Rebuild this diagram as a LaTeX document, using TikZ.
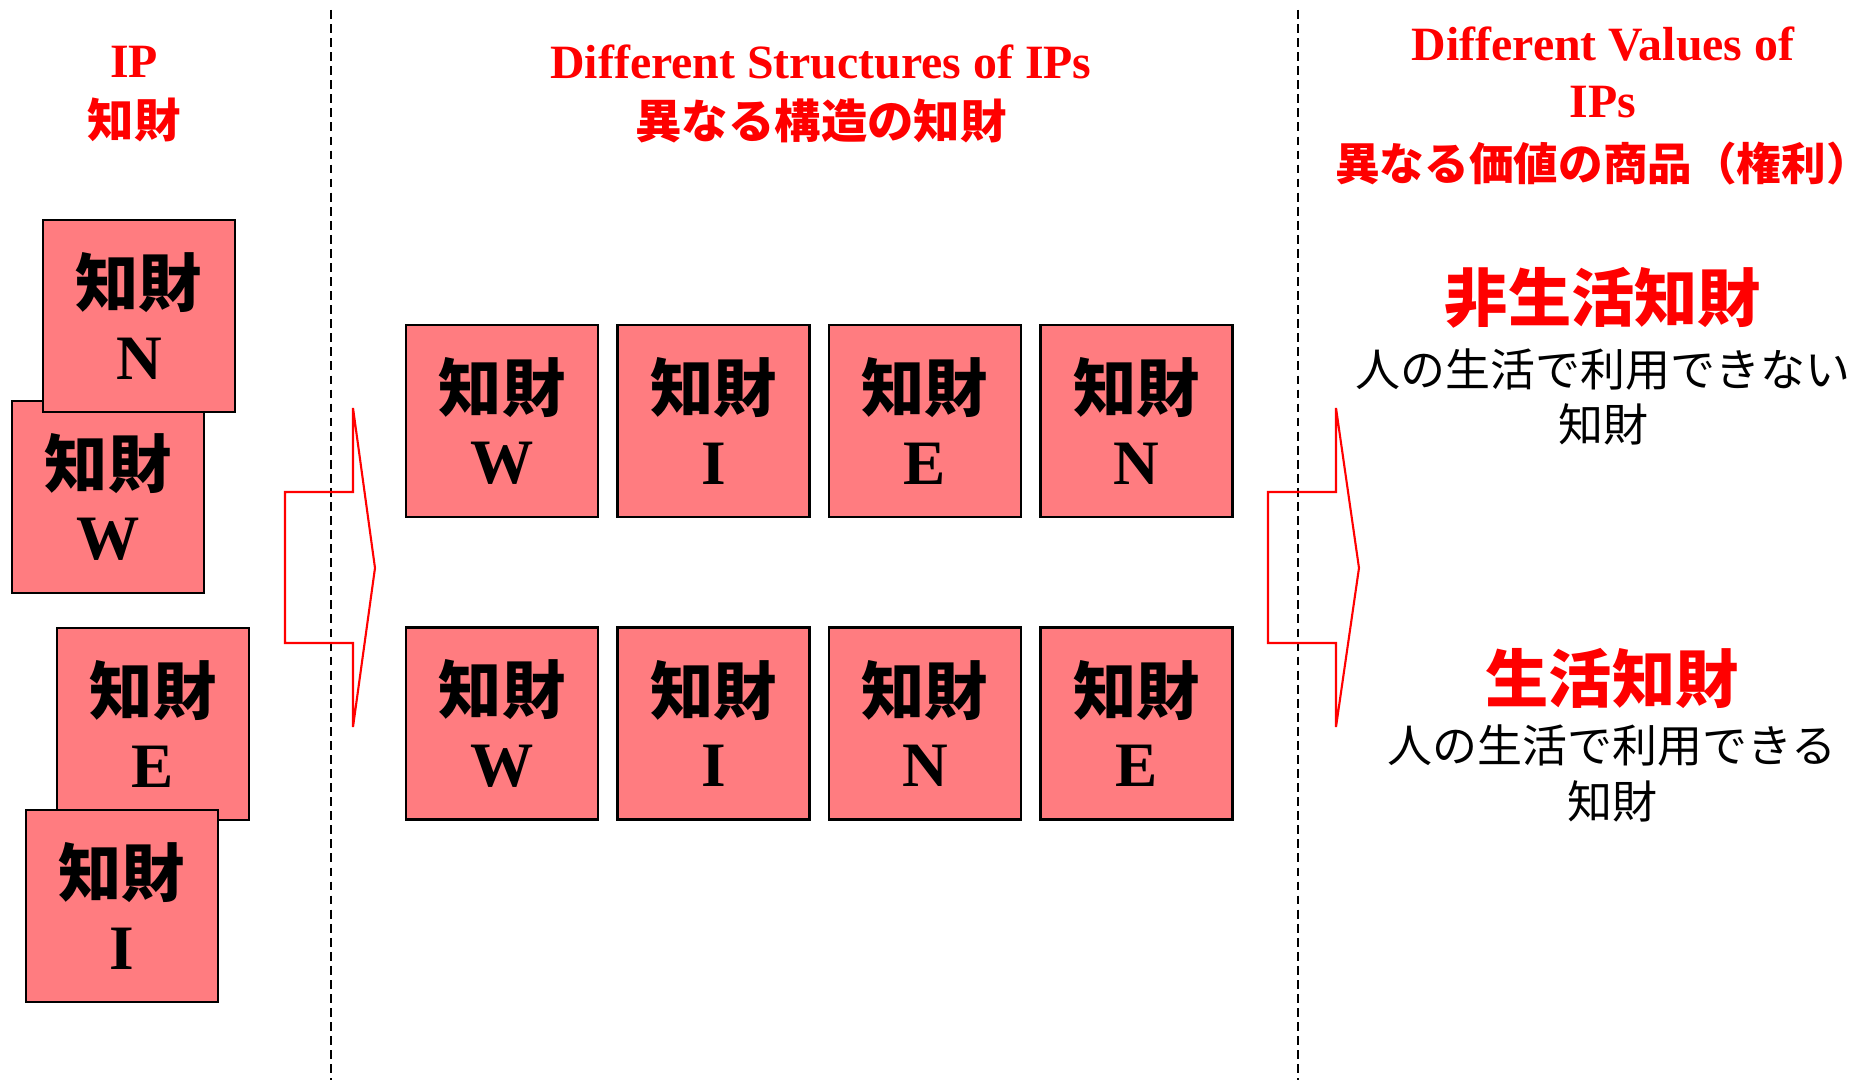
\documentclass[tikz,border=0pt]{standalone}
\usepackage{fontspec}
\setmainfont{Liberation Serif}
\newfontfamily\cjk{Noto Sans CJK JP}
\usetikzlibrary{positioning}
\definecolor{ipfill}{HTML}{FF7C80}
\tikzset{
  ipbox/.style={draw, line width=0.7pt, fill=ipfill, minimum size=1.92cm, inner sep=0pt,
    align=center, font=\fontsize{18}{20.5}\selectfont\bfseries},
  heading/.style={text=red, align=center, font=\fontsize{13.6}{16.2}\selectfont\bfseries},
  kindtitle/.style={text=red, font=\cjk\fontsize{18}{20}\selectfont\bfseries},
  kinddesc/.style={align=center, font=\cjk\fontsize{12.8}{15.8}\selectfont},
  divider/.style={dash pattern=on 2.5pt off 1.5pt, line width=0.6pt},
  blockarrow/.style={red, line width=0.6pt, line join=miter},
}
\newcommand{\ipcard}[1]{{\cjk 知財}\\#1}
\begin{document}
\begin{tikzpicture}
\useasboundingbox (0,0) rectangle (18.72,10.80);
% dividers
\draw[divider] (3.31,10.70) -- (3.31,0);
\draw[divider] (12.98,10.70) -- (12.98,0);
% headings
\node[heading] (hip) at (1.34,9.86) {IP\\[1pt]{\cjk\fontsize{13.2}{16.2}\selectfont 知財}};
\node[heading] (hstruct) at (8.21,9.86) {Different Structures of IPs\\[1pt]{\cjk\fontsize{13.2}{16.2}\selectfont 異なる構造の知財}};
\node[heading] (hvalue) at (16.03,9.74) {Different Values of\\IPs\\[1.5pt]{\cjk\fontsize{12.7}{16.2}\selectfont 異なる価値の商品（権利）}};
% loose IPs
\node[ipbox] (lw) at (1.08,5.83) {\ipcard{W}};
\node[ipbox] (ln) at (1.39,7.64) {\ipcard{N}};
\node[ipbox] (le) at (1.53,3.56) {\ipcard{E}};
\node[ipbox] (li) at (1.22,1.74) {\ipcard{I}};
% arrows
\draw[blockarrow] (2.85,5.88) -- (3.53,5.88) -- (3.53,6.72) -- (3.75,5.12)
  -- (3.53,3.53) -- (3.53,4.37) -- (2.85,4.37) -- cycle;
\draw[blockarrow] (12.68,5.88) -- (13.36,5.88) -- (13.36,6.72) -- (13.59,5.12)
  -- (13.36,3.53) -- (13.36,4.37) -- (12.68,4.37) -- cycle;
% structures
\node[ipbox] (aw) at (5.02,6.59) {\ipcard{W}};
\node[ipbox, right=0.17cm of aw] (ai) {\ipcard{I}};
\node[ipbox, right=0.17cm of ai] (ae) {\ipcard{E}};
\node[ipbox, right=0.17cm of ae] (an) {\ipcard{N}};
\node[ipbox, below=1.08cm of aw] (bw) {\ipcard{W}};
\node[ipbox, right=0.17cm of bw] (bi) {\ipcard{I}};
\node[ipbox, right=0.17cm of bi] (bn) {\ipcard{N}};
\node[ipbox, right=0.17cm of bn] (be) {\ipcard{E}};
% values
\node[kindtitle] (nonlife) at (16.03,7.82) {非生活知財};
\node[kinddesc] (nonlifedesc) at (16.03,6.83) {人の生活で利用できない\\知財};
\node[kindtitle] (life) at (16.12,4.02) {生活知財};
\node[kinddesc] (lifedesc) at (16.12,3.065) {人の生活で利用できる\\知財};
\end{tikzpicture}
\end{document}
